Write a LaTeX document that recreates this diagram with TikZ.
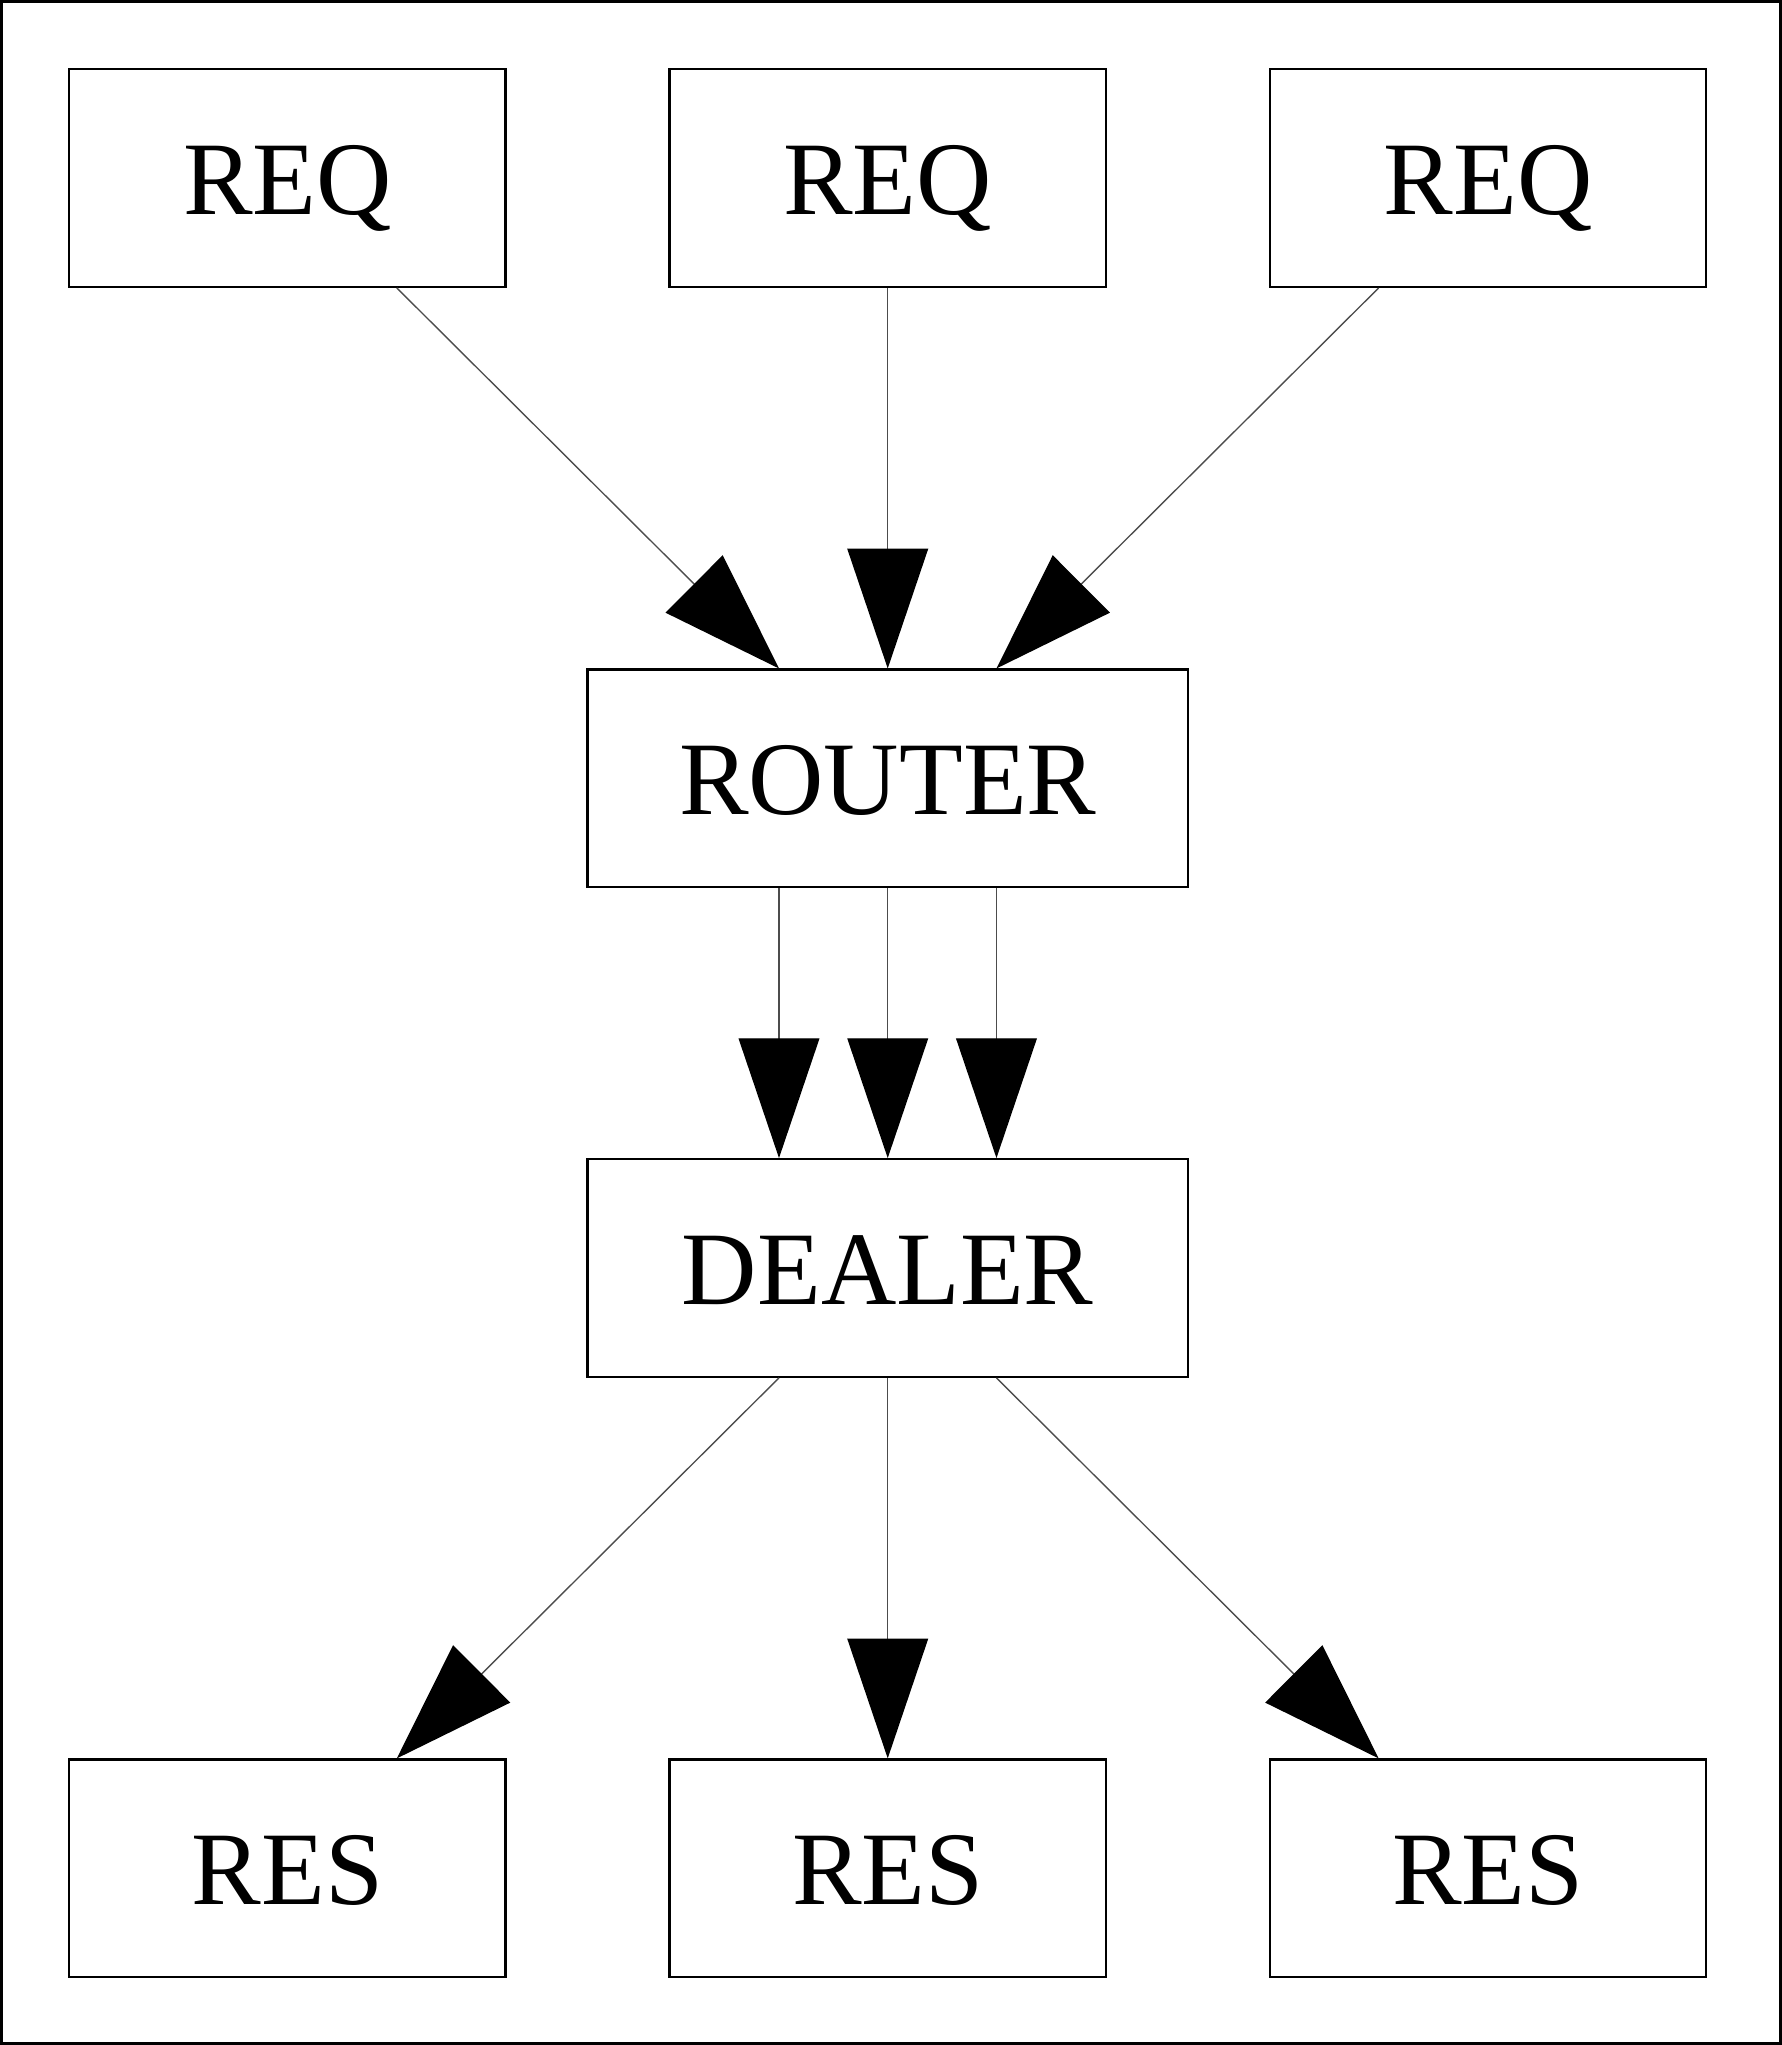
\documentclass[tikz,border=0pt]{standalone}
\usepackage{fontspec}
\setmainfont{LiberationSerif}[Extension=.ttf, UprightFont=*-Regular, BoldFont=*-Bold]
\usetikzlibrary{arrows.meta}
\begin{document}
\begin{tikzpicture}[
  box/.style={draw=black, line width=0.5pt, inner sep=0pt, minimum height=1.67cm,
    font=\fontsize{22.8}{26}\selectfont, text height=0.56cm, text depth=0cm},
  small/.style={box, minimum width=3.35cm},
  wide/.style={box, minimum width=4.61cm},
  conn/.style={draw=black!70, line width=0.3pt,
    -{Triangle[length=0.92cm, width=0.62cm, black]}}
]
\draw[line width=0.7pt] (0,0) rectangle (13.66,-15.68);
\useasboundingbox (0,0) rectangle (13.66,-15.68);
\node[small] (q1) at (2.195,-1.355) {REQ};
\node[small] (q2) at (6.805,-1.355) {REQ};
\node[small] (q3) at (11.415,-1.355) {REQ};
\node[wide] (router) at (6.805,-5.965) {ROUTER};
\node[wide] (dealer) at (6.805,-9.725) {DEALER};
\node[small] (s1) at (2.195,-14.335) {RES};
\node[small] (s2) at (6.805,-14.335) {RES};
\node[small] (s3) at (11.415,-14.335) {RES};
\path[conn] ([xshift=0.84cm]q1.south) -- ([xshift=-0.835cm]router.north);
\path[conn] (q2.south) -- (router.north);
\path[conn] ([xshift=-0.84cm]q3.south) -- ([xshift=0.835cm]router.north);
\path[conn] ([xshift=-0.835cm]router.south) -- ([xshift=-0.835cm]dealer.north);
\path[conn] (router.south) -- (dealer.north);
\path[conn] ([xshift=0.835cm]router.south) -- ([xshift=0.835cm]dealer.north);
\path[conn] ([xshift=-0.835cm]dealer.south) -- ([xshift=0.84cm]s1.north);
\path[conn] (dealer.south) -- (s2.north);
\path[conn] ([xshift=0.835cm]dealer.south) -- ([xshift=-0.84cm]s3.north);
\end{tikzpicture}
\end{document}
